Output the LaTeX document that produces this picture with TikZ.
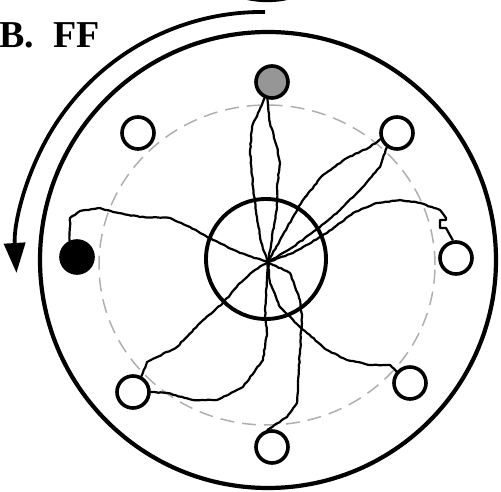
\documentclass[tikz,border=0pt]{standalone}
\usepackage{fontspec}
\setmainfont{Liberation Serif}
\usetikzlibrary{arrows.meta,decorations.pathmorphing}
\definecolor{poolGray}{RGB}{150,150,150}
\definecolor{ringGray}{RGB}{175,175,175}

\begin{document}
\begin{tikzpicture}[x=1pt, y=1pt,
    pool/.style={circle, draw, line width=3.6pt, minimum size=32pt, inner sep=0pt, fill=white},
    track/.style={line width=2.2pt, line join=round, line cap=round, decorate,
      decoration={random steps, segment length=3pt, amplitude=0.45pt}}]
  \pgfmathsetseed{7}
  \useasboundingbox (0,0) rectangle (501,492);
  % title
  \node[font=\bfseries\fontsize{38}{40}\selectfont, anchor=base west, inner sep=0pt] (title) at (-1,444) {B.\hspace{19pt}FF};
  % rotation arrow
  \draw[line width=3.8pt] (237,497) .. controls (255,490) and (280,490) .. (297,497);
  \draw[line width=3.8pt, -{Triangle[length=30pt, width=21pt]}] (265,480) arc[start angle=89.3, end angle=183.5, radius=246];
  % arena wall and start ring
  \draw[line width=4.2pt] (268,232) circle (228);
  \draw[ringGray, line width=1.5pt, dash pattern=on 14pt off 8pt] (267,227) ellipse (168 and 160);
  % platform
  \draw[line width=3.9pt] (266,233) circle (60);
  \coordinate (c) at (268,230);
  % pools
  \node[pool, fill=poolGray] (g) at (272,410) {};
  \node[pool] (tl) at (138,359) {};
  \node[pool] (tr) at (397,359) {};
  \node[pool, fill=black] (l) at (77,235) {};
  \node[pool] (r) at (456,234) {};
  \node[pool] (bl) at (133,100) {};
  \node[pool] (br) at (410,109) {};
  \node[pool] (b) at (272,45) {};
  % swim paths
  \draw[track] plot coordinates {(c) (261,250) (257,275) (253,305) (250,342) (252,365) (g.245)};
  \draw[track] plot coordinates {(g.255) (270,369) (277,345) (280,329) (277,305) (277,285) (c)};
  \draw[track] plot coordinates {(c) (280,252) (293,275) (303,292) (323,317) (347,334) (370,345) (tr.200)};
  \draw[track] plot coordinates {(c) (293,245) (320,265) (340,282) (360,302) (380,325) (tr.235)};
  \draw[track] plot coordinates {(c) (293,239) (327,259) (353,279) (377,289) (400,292) (420,289) (440,282) (446,274)};
  \draw[line width=2.2pt, line join=round] (446,274) -- (446,272) -- (440,272) -- (440,264) -- (446,264) -- (r.100);
  \draw[track] plot coordinates {(l.115) (70,274) (80,281) (100,284) (113,280) (140,275) (170,274) (190,265) (213,252) (240,239) (c)};
  \draw[track] plot coordinates {(c) (255,222) (240,209) (223,189) (200,169) (177,145) (147,130) (bl.62)};
  \draw[track] plot coordinates {(c) (267,212) (265,182) (267,159) (263,132) (243,105) (217,92) (193,92) (167,99) (bl.east)};
  \draw[track] plot coordinates {(c) (290,219) (300,192) (302,175) (300,142) (298,109) (297,89) (287,75) (b.105)};
  \draw[track] plot coordinates {(c) (270,209) (280,185) (300,165) (327,142) (347,132) (370,127) (390,127) (br.140)};
\end{tikzpicture}
\end{document}
